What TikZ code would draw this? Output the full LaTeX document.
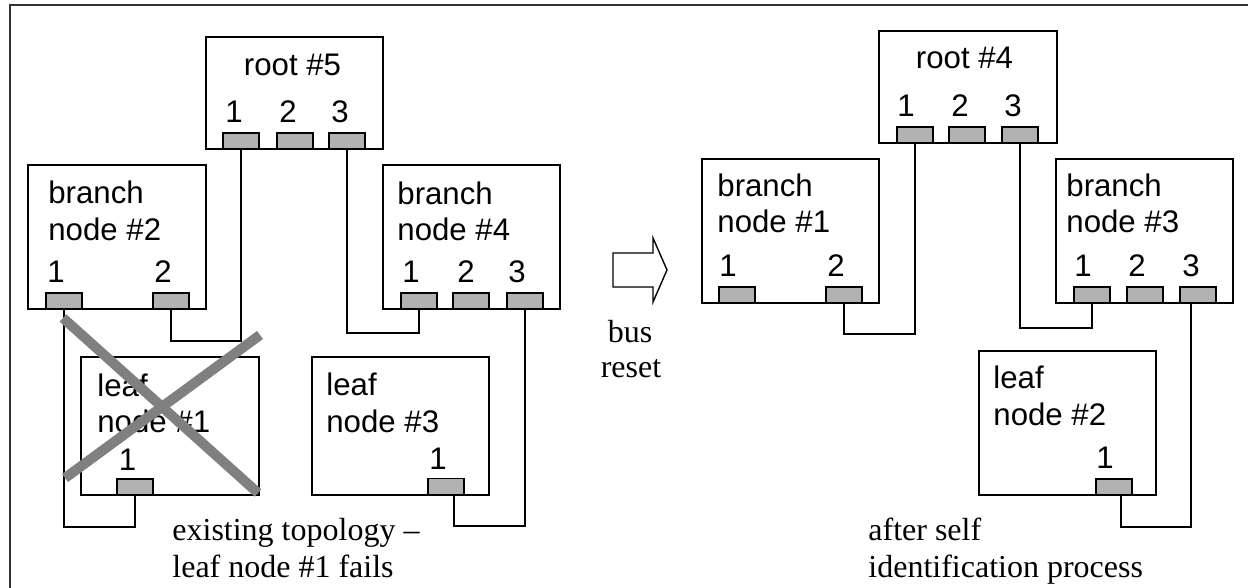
\documentclass[tikz,border=0pt]{standalone}
\usepackage{fontspec}
\setmainfont{Liberation Serif}
\setsansfont{Liberation Sans}
\definecolor{portgray}{RGB}{178,178,178}
\definecolor{crossgray}{RGB}{128,128,128}
\definecolor{framegray}{RGB}{50,50,50}
\begin{document}
\begin{tikzpicture}[x=0.5pt,y=-0.5pt,
  box/.style={draw=black,fill=white,line width=1pt,inner sep=0pt,outer sep=0pt,anchor=north west},
  port/.style={draw=black,fill=portgray,line width=0.8pt,inner sep=0pt,outer sep=0pt,anchor=north west,minimum width=18pt,minimum height=8pt},
  lbl/.style={inner sep=0pt,font=\sffamily\fontsize{15.6pt}{18pt}\selectfont,anchor=base west},
  num/.style={inner sep=0pt,font=\sffamily\fontsize{15.6pt}{18pt}\selectfont,anchor=base},
  captxt/.style={inner sep=0pt,font=\rmfamily\fontsize{16pt}{18pt}\selectfont,anchor=base west},
  midtxt/.style={inner sep=0pt,font=\rmfamily\fontsize{16pt}{18pt}\selectfont,anchor=base},
  wire/.style={line width=0.65pt,draw=black},
  crossline/.style={line width=5pt,draw=crossgray}]
\useasboundingbox (0,0) rectangle (1248,588);
% outer frame (cut at right and bottom)
\draw[line width=1pt,draw=framegray] (1260,5) -- (10,5) -- (10,600);

% ================= LEFT: existing topology =================
% root #5
\node[box,minimum width=88.5pt,minimum height=56pt] (root5) at (206,37) {};
\node[num] (root5t) at (292.5,76) {root \#5};
\node[num] (root5n1) at (234,123) {1};
\node[num] (root5n2) at (288,123) {2};
\node[num] (root5n3) at (340,123) {3};
\node[port] (p51) at (223,133) {};
\node[port] (p52) at (277,133) {};
\node[port] (p53) at (329,133) {};

% branch node #2
\node[box,minimum width=89pt,minimum height=72pt] (br2) at (28,165) {};
\node[lbl] (br2a) at (48,204) {branch};
\node[lbl] (br2b) at (48,241) {node \#2};
\node[num] (br2n1) at (56,283) {1};
\node[num] (br2n2) at (163,283) {2};
\node[port] (p21) at (46,293) {};
\node[port] (p22) at (153,293) {};

% branch node #4
\node[box,minimum width=88.5pt,minimum height=72pt] (br4) at (383,165) {};
\node[lbl] (br4a) at (397,205) {branch};
\node[lbl] (br4b) at (397,241) {node \#4};
\node[num] (br4n1) at (411,283) {1};
\node[num] (br4n2) at (466,283) {2};
\node[num] (br4n3) at (517,283) {3};
\node[port] (p41) at (401,293) {};
\node[port] (p42) at (453,293) {};
\node[port] (p43) at (507,293) {};

% leaf node #1
\node[box,minimum width=89pt,minimum height=69pt] (lf1) at (81,357) {};
\node[lbl] (lf1a) at (97,396) {leaf};
\node[lbl] (lf1b) at (97,432) {node \#1};
\node[num] (lf1n) at (127.5,470) {1};
\node[port] (l1p) at (117,479) {};

% leaf node #3
\node[box,minimum width=88.5pt,minimum height=69pt] (lf3) at (312,357) {};
\node[lbl] (lf3a) at (326,395) {leaf};
\node[lbl] (lf3b) at (326,432) {node \#3};
\node[num] (lf3n) at (438,469) {1};
\node[port] (l3p) at (428,478.5) {};

% connectors left
\coordinate (k1) at (0,341);
\coordinate (k2) at (0,333);
\coordinate (k3) at (0,527);
\coordinate (k4) at (0,526);
\draw[wire] (p51.south) -- (p51.south |- k1) -| (p22.south);
\draw[wire] (p53.south) -- (p53.south |- k2) -| (p41.south);
\draw[wire] (p21.south) -- (p21.south |- k3) -| (l1p.south);
\draw[wire] (p43.south) -- (p43.south |- k4) -| ([xshift=4pt]l3p.south);

% failure cross
\draw[crossline] (63,318) -- (258,493);
\draw[crossline] (260,335) -- (65,478);

% caption left
\node[captxt] (capl1) at (172,540) {existing topology –};
\node[captxt] (capl2) at (172,577) {leaf node \#1 fails};

% ================= MIDDLE: bus reset arrow =================
\draw[line width=0.7pt] (613,253) -- (653,253) -- (653,238) -- (667,270) -- (653,302) -- (653,287) -- (613,287) -- cycle;
\node[midtxt] (bus) at (630,343) {bus};
\node[midtxt] (reset) at (631,378) {reset};

% ================= RIGHT: after self identification =================
% root #4
\node[box,minimum width=89pt,minimum height=56pt] (root4) at (879,31) {};
\node[num] (root4t) at (964.5,69) {root \#4};
\node[num] (root4n1) at (906,117) {1};
\node[num] (root4n2) at (960,117) {2};
\node[num] (root4n3) at (1013,117) {3};
\node[port] (q41) at (897,127) {};
\node[port] (q42) at (949,127) {};
\node[port] (q43) at (1002,127) {};

% branch node #1
\node[box,minimum width=88.5pt,minimum height=72pt] (br1) at (702,159) {};
\node[lbl] (br1a) at (717,197) {branch};
\node[lbl] (br1b) at (717,233) {node \#1};
\node[num] (br1n1) at (728,277) {1};
\node[num] (br1n2) at (836,277) {2};
\node[port] (q11) at (719,287) {};
\node[port] (q12) at (826,287) {};

% branch node #3
\node[box,minimum width=88.5pt,minimum height=72pt] (br3) at (1056,159) {};
\node[lbl] (br3a) at (1066,197) {branch};
\node[lbl] (br3b) at (1066,233) {node \#3};
\node[num] (br3n1) at (1083,277) {1};
\node[num] (br3n2) at (1137,277) {2};
\node[num] (br3n3) at (1191,277) {3};
\node[port] (q31) at (1074,287) {};
\node[port] (q32) at (1127,287) {};
\node[port] (q33) at (1180,287) {};

% leaf node #2
\node[box,minimum width=88.5pt,minimum height=72pt] (lf2) at (979,351) {};
\node[lbl] (lf2a) at (993,388) {leaf};
\node[lbl] (lf2b) at (993,425) {node \#2};
\node[num] (lf2n) at (1105,468) {1};
\node[port] (l2p) at (1096,479) {};

% connectors right
\coordinate (m1) at (0,334);
\coordinate (m2) at (0,328);
\coordinate (m3) at (0,527);
\draw[wire] (q41.south) -- (q41.south |- m1) -| (q12.south);
\draw[wire] (q43.south) -- (q43.south |- m2) -| (q31.south);
\draw[wire] ([xshift=-3.5pt]q33.south) -- ([xshift=-3.5pt]q33.south |- m3) -| ([xshift=3.5pt]l2p.south);

% caption right
\node[captxt] (capr1) at (868,540) {after self};
\node[captxt] (capr2) at (868,577) {identification process};
\end{tikzpicture}
\end{document}
